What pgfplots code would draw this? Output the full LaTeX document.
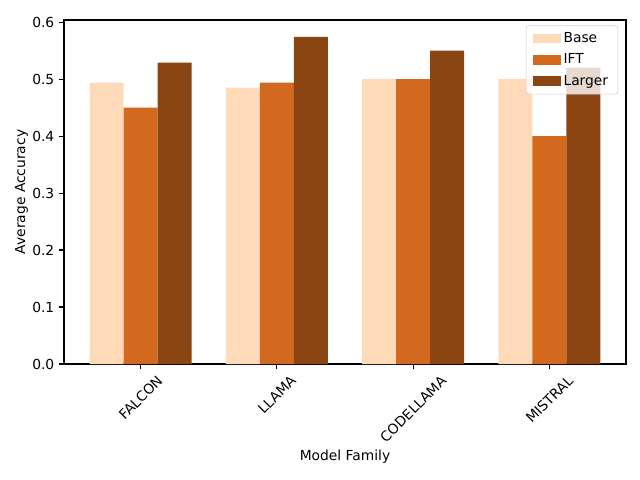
\documentclass[border=0pt]{standalone}
\usepackage{fontspec}
\setmainfont{DejaVu Sans}
\usepackage{graphicx}
\usepackage{pgfplots}
\pgfplotsset{compat=1.18}
\definecolor{cbase}{HTML}{FFDAB9}
\definecolor{cift}{HTML}{D2691E}
\definecolor{clarge}{HTML}{8B4513}
\begin{document}
\begin{tikzpicture}
\useasboundingbox (-46.08bp,-83.52bp) rectangle (414.72bp,262.08bp);
\begin{axis}[
  at={(0,0)}, anchor=south west,
  scale only axis, width=404.64bp, height=247.68bp,
  xmin=-0.5625, xmax=3.5625, ymin=0, ymax=0.6037,
  xtick={0,1,2,3},
  xticklabels={\rotatebox{45}{FALCON},\rotatebox{45}{LLAMA},\rotatebox{45}{CODELLAMA},\rotatebox{45}{MISTRAL}},
  xticklabel style={anchor=north, inner sep=0pt, yshift=-4pt},
  ytick={0,0.1,0.2,0.3,0.4,0.5,0.6},
  yticklabel style={/pgf/number format/fixed, /pgf/number format/fixed zerofill, /pgf/number format/precision=1},
  /pgf/number format/assume math mode=true,
  tick align=outside, tick pos=left, major tick length=3.5pt,
  tick style={black, line width=0.8pt},
  axis line style={line width=0.8pt},
  xlabel={Model Family}, ylabel={Average Accuracy},
  xlabel style={at={(axis description cs:0.5,0)}, anchor=center, yshift=-66.96bp},
  ylabel style={at={(axis description cs:0,0.5)}, anchor=center, xshift=0pt, yshift=30.5bp},
  ybar=0pt, bar width=0.25,
  legend style={at={(0.986,0.985)}, anchor=north east, draw=black!20, rounded corners=2pt, fill=white, fill opacity=0.8, text opacity=1, draw opacity=1, font=\fontsize{10}{12}\selectfont, row sep=2.6pt, inner xsep=5pt, inner ysep=3pt},
  legend cell align=left,
  legend image code/.code={\fill[#1, fill opacity=1, sharp corners] (0pt,-3.5pt) rectangle (20pt,3.5pt);},
]
\addplot[fill=cbase, draw=none, bar shift=-0.25] coordinates {(0,0.494) (1,0.485) (2,0.5) (3,0.5)};
\addplot[fill=cift, draw=none, bar shift=0] coordinates {(0,0.45) (1,0.494) (2,0.5) (3,0.4)};
\addplot[fill=clarge, draw=none, bar shift=0.25] coordinates {(0,0.529) (1,0.574) (2,0.55) (3,0.52)};
\legend{Base,IFT,Larger}
\end{axis}
\end{tikzpicture}
\end{document}
